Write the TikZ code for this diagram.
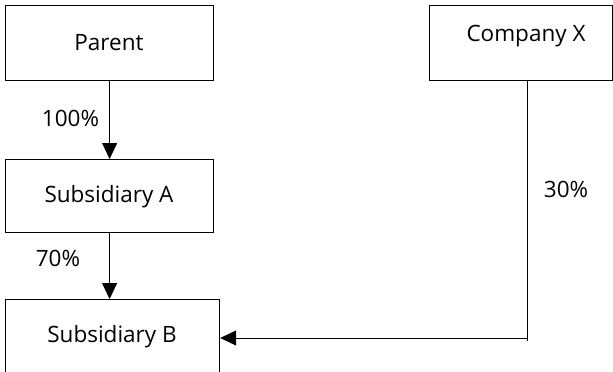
\documentclass[tikz,border=0pt]{standalone}
\usepackage{fontspec}
\setmainfont{Open Sans}
\usetikzlibrary{arrows.meta}
\begin{document}
\begin{tikzpicture}[x=1pt,y=-1pt,
  box/.style={draw,line width=1.2pt,rectangle,inner sep=0pt,anchor=north west},
  lbl/.style={font=\fontsize{22.5}{26}\selectfont,inner sep=0pt},
  conn/.style={draw,line width=1pt,-{Triangle[width=15pt,length=16pt]}},
  plain/.style={draw,line width=1pt}]
\useasboundingbox (0,0) rectangle (613,372);
\node[box,minimum width=208pt,minimum height=75pt] (parent) at (5,5) {};
\node[lbl] (parentT) at (109,43) {Parent};
\node[box,minimum width=208pt,minimum height=73pt] (subA) at (5,159) {};
\node[lbl] (subAT) at (109,197) {Subsidiary A};
\node[box,minimum width=214pt,minimum height=75pt] (subB) at (5,299) {};
\node[lbl] (subBT) at (112,337) {Subsidiary B};
\node[box,minimum width=183pt,minimum height=75pt] (compX) at (429,5) {};
\node[lbl] (compXT) at (526,36) {Company X};
\draw[conn] (parent.south) -- (subA.north) node[lbl,pos=0.48,left=10pt] (l100) {100\%};
\draw[conn] (subA.south) -- (subA.south |- subB.north) node[lbl,pos=0.38,left=29pt] (l70) {70\%};
\coordinate (corner) at (527,338);
\coordinate (tail) at (527,341);
\draw[plain] (corner |- compX.south) -- (tail);
\draw[conn] (corner) -- (subB.east |- corner);
\node[lbl] (l30) at (566,189) {30\%};
\end{tikzpicture}
\end{document}
